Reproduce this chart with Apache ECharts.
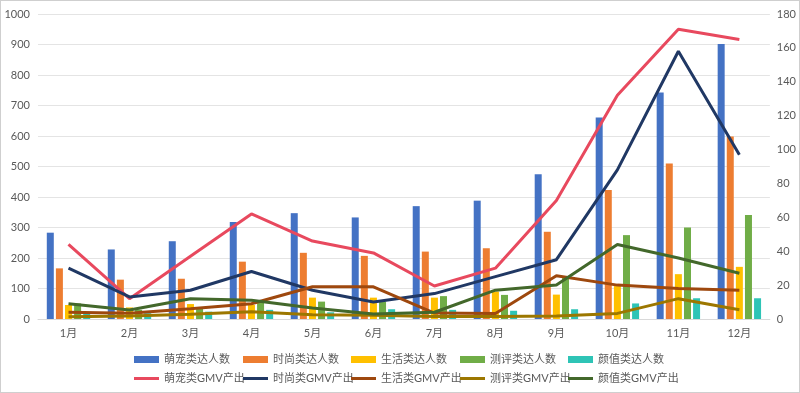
<!DOCTYPE html>
<html>
<head>
<meta charset="utf-8">
<script src="https://cdn.jsdelivr.net/npm/echarts@6/dist/echarts.min.js"></script>
<style>
html,body{margin:0;padding:0;background:#fff;}
#c{width:800px;height:393px;box-sizing:border-box;border:1px solid #cfcfcf;}
</style>
</head>
<body>
<div id="c"></div>
<script>
var months = ['1月','2月','3月','4月','5月','6月','7月','8月','9月','10月','11月','12月'];
var petCount     = [283, 228, 255, 318, 347, 333, 370, 388, 475, 661, 743, 902];
var fashionCount = [166, 129, 132, 188, 217, 207, 221, 232, 286, 423, 510, 598];
var lifeCount    = [46, 38, 49, 46, 70, 70, 70, 90, 80, 108, 147, 171];
var reviewCount  = [51, 30, 33, 62, 57, 57, 75, 79, 140, 275, 300, 341];
var beautyCount  = [19, 19, 24, 30, 22, 32, 30, 27, 32, 51, 68, 68];

var petGMV     = [44, 12, 37, 62, 46, 39, 19.5, 30, 70, 132, 171, 165];
var fashionGMV = [30, 13, 17, 28, 17, 10, 15, 25, 35, 88, 158, 97];
var lifeGMV    = [4, 3.4, 6, 9, 19, 19, 3.5, 3.2, 25.5, 20, 18, 17];
var reviewGMV  = [1.4, 1.8, 2.8, 4.3, 2.5, 2.2, 1.5, 1.5, 1.8, 3.3, 12, 5.5];
var beautyGMV  = [9, 5.3, 12, 11, 6.5, 3, 4, 17, 20, 44, 36, 27];

var leftTicks = [0, 1000, 100];
var rightTicks = [0, 180, 20];

var barNames = ['萌宠类达人数','时尚类达人数','生活类达人数','测评类达人数','颜值类达人数'];
var lineNames = ['萌宠类GMV产出','时尚类GMV产出','生活类GMV产出','测评类GMV产出','颜值类GMV产出'];
var barData = [petCount, fashionCount, lifeCount, reviewCount, beautyCount];
var lineData = [petGMV, fashionGMV, lifeGMV, reviewGMV, beautyGMV];
var barColors = ['#4472C4','#ED7D31','#FFC000','#70AD47','#2EC4B6'];
var lineColors = ['#E8495E','#203864','#9E480E','#9C7700','#43682B'];

var font = 'Lato, "Noto Sans CJK SC", sans-serif';
var series = [];
barNames.forEach(function(n, i){
  series.push({name:n, type:'bar', yAxisIndex:0, data:barData[i], barWidth:7, barGap:'30%',
    itemStyle:{color:barColors[i]}});
});
lineNames.forEach(function(n, i){
  series.push({name:n, type:'line', yAxisIndex:1, data:lineData[i], symbol:'none',
    lineStyle:{color:lineColors[i], width:3}, itemStyle:{color:lineColors[i]}, z:5});
});

var colX = [133, 242, 350, 459, 567];
var legends = [];
barNames.forEach(function(n, i){
  legends.push({data:[n], left:colX[i], top:353, padding:0, itemWidth:25, itemHeight:7, icon:'rect',
    textStyle:{fontSize:11, color:'#595959', fontFamily:font}});
});
lineNames.forEach(function(n, i){
  legends.push({data:[n], left:colX[i], top:372, padding:0, itemWidth:25, itemHeight:3, icon:'rect',
    textStyle:{fontSize:11, color:'#595959', fontFamily:font}});
});

var chart = echarts.init(document.getElementById('c'));
chart.setOption({
  animation:false,
  backgroundColor:'#fff',
  grid:{left:37, right:29, top:13, bottom:73},
  legend:legends,
  xAxis:{type:'category', data:months,
    axisLine:{lineStyle:{color:'#d9d9d9'}}, axisTick:{show:false},
    axisLabel:{color:'#595959', fontSize:11, fontFamily:font, margin:9}},
  yAxis:[
    {type:'value', min:leftTicks[0], max:leftTicks[1], interval:leftTicks[2],
      axisLine:{show:false}, axisTick:{show:false},
      splitLine:{lineStyle:{color:'#e4e4e4'}},
      axisLabel:{color:'#595959', fontSize:11, fontFamily:font, margin:8,
        formatter:function(v){return String(v);}}},
    {type:'value', min:rightTicks[0], max:rightTicks[1], interval:rightTicks[2],
      axisLine:{show:false}, axisTick:{show:false}, splitLine:{show:false},
      axisLabel:{color:'#595959', fontSize:11, fontFamily:font, margin:7,
        formatter:function(v){return String(v);}}}
  ],
  series:series
});
</script>
</body>
</html>
